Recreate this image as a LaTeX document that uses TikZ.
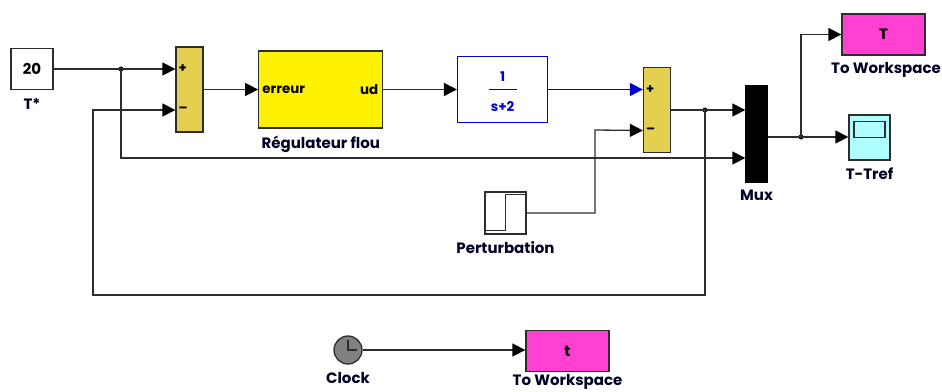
\documentclass[tikz,border=0pt]{standalone}
\usepackage{fontspec}
\setmainfont{Poppins}
\usetikzlibrary{calc,arrows.meta,positioning}
\definecolor{sumColor}{RGB}{229,207,80}
\definecolor{wsColor}{RGB}{255,64,208}
\definecolor{scopeColor}{RGB}{176,255,255}
\definecolor{tfColor}{RGB}{0,0,208}
\definecolor{lineColor}{RGB}{45,45,45}
\newcommand{\blockfont}{\fontsize{15}{17}\selectfont\bfseries}
\newcommand{\portfont}{\fontsize{13.4}{14}\selectfont\bfseries}
\newcommand{\signfont}{\fontsize{13}{14}\selectfont\bfseries}

\begin{document}
\begin{tikzpicture}[x=1pt,y=1pt,
    block/.style={draw=lineColor, line width=1.3pt, inner sep=0pt, font=\blockfont},
    sumblock/.style={block, fill=sumColor, minimum width=27pt, minimum height=85pt},
    wsblock/.style={block, fill=wsColor, minimum width=83pt, minimum height=41pt},
    lab/.style={font=\blockfont, text=black!85!blue, inner sep=0pt},
    port/.style={font=\portfont, inner sep=0pt},
    sign/.style={font=\signfont, inner sep=0pt},
    arr/.style={-{Triangle[length=13pt,width=13pt,color=black]}, line width=1.3pt, lineColor},
    barr/.style={-{Triangle[length=13pt,width=13pt,color=tfColor]}, line width=1.3pt, tfColor},
    wire/.style={line width=1.3pt, lineColor},
    dot/.style={circle, fill=black, inner sep=0pt, minimum size=5pt}
  ]
  \useasboundingbox (0,0) rectangle (942,-391);

  % main row
  \node[block, minimum width=42pt, minimum height=41pt] (ref) at (32,-69) {20};
  \node[lab, below=8pt of ref] (reflab) {T*};
  \node[sumblock] (sum1) at (189.5,-89.5) {};
  \node[block, fill=yellow, minimum width=124pt, minimum height=77pt, right=54.5pt of sum1] (reg) {};
  \node[port, anchor=west] (regin) at ($(reg.west)+(4,0)$) {erreur};
  \node[port, anchor=east] (regout) at ($(reg.east)+(-5,0)$) {ud};
  \node[lab, below=7pt of reg] (reglab) {Régulateur flou};
  \node[block, draw=tfColor, text=tfColor, minimum width=90pt, minimum height=66pt, right=73.5pt of reg] (tf) {};
  \node[port, text=tfColor] (tfnum) at ($(tf.center)+(0,13)$) {1};
  \node[port, text=tfColor] (tfden) at ($(tf.center)+(0,-17)$) {s+2};
  \draw[tfColor, line width=1.3pt] ($(tf.center)+(-14,0)$) -- ($(tf.center)+(14,0)$);
  \node[sumblock] (sum2) at (657,-110) {};

  % signs on the sums
  \coordinate (s1a) at ($(sum1.west)+(0,20.5)$);
  \coordinate (s1b) at ($(sum1.west)+(0,-20.5)$);
  \coordinate (s2a) at ($(sum2.west)+(0,20.5)$);
  \coordinate (s2b) at ($(sum2.west)+(0,-20.5)$);
  \node[sign, right=3pt of s1a] (p1) {+};
  \node[sign, right=3pt of s1b] (m1) {--};
  \node[sign, right=3pt of s2a] (p2) {+};
  \node[sign, right=3pt of s2b] (m2) {--};

  % mux and sinks
  \node[block, draw=black, fill=black, minimum width=21pt, minimum height=96pt] (mux) at (756.5,-134) {};
  \node[lab, below=7pt of mux] (muxlab) {Mux};
  \coordinate (mxa) at ($(mux.west)+(0,24)$);
  \coordinate (mxb) at ($(mux.west)+(0,-24)$);
  \coordinate (mxo) at ($(mux.east)+(0,-3)$);
  \node[wsblock] (wsT) at (883.5,-34.5) {T};
  \node[lab, below=7pt of wsT, xshift=2.5pt] (wsTlab) {To Workspace};
  \node[block, fill=scopeColor, minimum width=41pt, minimum height=45pt] (scope) at (869.5,-137.5) {};
  \node[draw=lineColor, line width=1.3pt, minimum width=31pt, minimum height=16pt, inner sep=0pt, above=5.5pt of scope.south, yshift=17pt] (screen) {};
  \node[lab, below=7pt of scope] (scopelab) {T-Tref};

  % step
  \node[block, fill=white, minimum width=41pt, minimum height=42pt] (step) at (505.5,-213) {};
  \draw[wire] ($(step.south west)+(0,4)$) -| ($(step.north)+(0,-3)$) -- ($(step.north east)+(0,-3)$);
  \node[lab, below=7pt of step] (steplab) {Perturbation};

  % clock
  \node[circle, draw=lineColor, line width=1.3pt, fill=black!50, minimum size=28pt, inner sep=0pt] (clock) at (348,-350) {};
  \draw[wire] ($(clock.center)+(0,10)$) -- (clock.center) -- ($(clock.center)+(9,0)$);
  \node[lab, below=8pt of clock] (clocklab) {Clock};
  \node[wsblock] (wst) at (567.5,-351) {t};
  \node[lab, below=2.5pt of wst] (wstlab) {To Workspace};

  % junctions
  \coordinate (j1) at (121,-69);
  \coordinate (j2) at (705,-110);
  \coordinate (j3) at (801,-137);
  \node[dot] (d1) at (j1) {};
  \node[dot] (d2) at (j2) {};
  \node[dot] (d3) at (j3) {};

  % connectors
  \draw[arr] (ref.east) -- (s1a);
  \draw[arr] (sum1.east) -- (reg.west);
  \draw[arr] (reg.east) -- (tf.west);
  \draw[barr] (tf.east) -- (s2a);
  \draw[wire] (sum2.east) -- (j2);
  \draw[arr] (j2) -- (mxa);
  \draw[arr] (j1) |- (mxb);
  \draw[arr] (j2) |- (93,-295) |- (s1b);
  \draw[arr] (step.east) -| (595,-130) -- (s2b);
  \draw[wire] (mxo) -- (j3);
  \draw[arr] (j3) -- (scope.west |- j3);
  \draw[arr] (j3) |- (wsT.west);
  \draw[arr] (clock.east) -- (clock.east -| wst.west);
\end{tikzpicture}
\end{document}
